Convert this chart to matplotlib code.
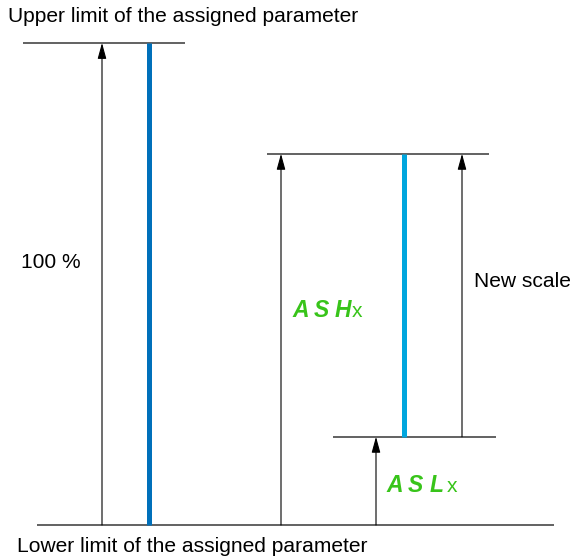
import matplotlib
matplotlib.use("Agg")
import matplotlib.pyplot as plt

plt.rcParams['font.family'] = ['Liberation Sans', 'DejaVu Sans']

# levels in % of the assigned parameter
full_low, full_high = 0, 100
asl_level, ash_level = 18.3, 77.0

# labels
top_label = "Upper limit of the assigned parameter"
bottom_label = "Lower limit of the assigned parameter"
full_label = "100 %"
new_label = "New scale"
ash_code, asl_code = ["A", "S", "H"], ["A", "S", "L"]

GREEN = "#38c41a"
DARK_BLUE = "#0070ba"
LIGHT_BLUE = "#00a6de"
GREY = "#555555"
FS = 15.1


def arrow(ax, x, y0, y1):
    ax.annotate("", xy=(x, y1), xytext=(x, y0),
                arrowprops=dict(arrowstyle="-|>,head_length=0.8,head_width=0.22",
                                mutation_scale=12, lw=0.8, color="black",
                                shrinkA=0, shrinkB=0))


def code_label(ax, letters, xs, y):
    for ch, x in zip(letters, xs[:-1]):
        ax.text(x, y, ch, color=GREEN, fontsize=16.5, fontweight="bold", style="italic",
                ha="left", va="baseline")
    ax.text(xs[-1], y, "x", color=GREEN, fontsize=FS, ha="left", va="baseline")


fig = plt.figure(figsize=(5.8, 5.58), dpi=100)
ax = fig.add_axes([0, 0, 1, 1])
ax.set_xlim(0, 580)
ax.set_ylim(-6.85, 108.9)
ax.axis("off")

# horizontal limits
ax.hlines(full_high, 23, 185, color=GREY, lw=1.3)
ax.hlines(full_low, 37, 554, color=GREY, lw=1.3)
ax.hlines(ash_level, 267, 489, color=GREY, lw=1.3)
ax.hlines(asl_level, 333, 496, color=GREY, lw=1.3)

# ranges
ax.vlines(149, full_low, full_high, color=DARK_BLUE, lw=3.6)
ax.vlines(403.5, asl_level, ash_level, color=LIGHT_BLUE, lw=3.6)

# arrows
arrow(ax, 102, full_low, full_high)
arrow(ax, 281, full_low, ash_level)
arrow(ax, 462, asl_level, ash_level)
arrow(ax, 376, full_low, asl_level)

# texts
ax.text(8, 104.3, top_label, fontsize=FS, ha="left", va="baseline")
ax.text(17, -5.6, bottom_label, fontsize=FS, ha="left", va="baseline")
ax.text(21, 53.3, full_label, fontsize=FS, ha="left", va="baseline")
ax.text(474, 49.4, new_label, fontsize=FS, ha="left", va="baseline")

code_label(ax, ash_code, [292, 314, 335, 352], 43.2)
code_label(ax, asl_code, [386, 408, 430, 447], 6.9)

fig.savefig("out.png", dpi=100)
